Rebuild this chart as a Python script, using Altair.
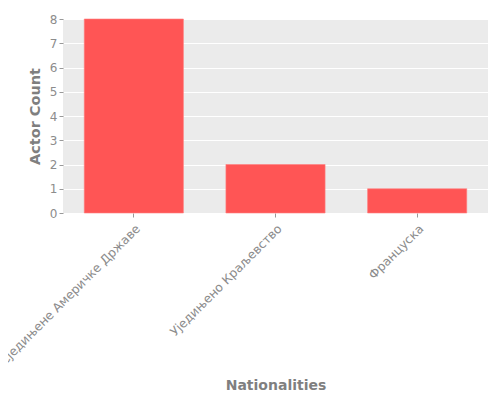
import altair as alt
import pandas as pd

nationalities = ["Сједињене Америчке Државе", "Уједињено Краљевство", "Француска"]
actor_counts = [8, 2, 1]

df = pd.DataFrame({"nationality": nationalities, "count": actor_counts})

chart = (
    alt.Chart(df)
    .mark_bar(color="#FF5555", stroke="#FF8080", strokeWidth=0.6)
    .encode(
        x=alt.X(
            "nationality:N",
            title="Nationalities",
            sort=nationalities,
            scale=alt.Scale(paddingInner=0.3, paddingOuter=0.15),
            axis=alt.Axis(
                labelAngle=-45, labelPadding=5, labelLimit=0, labelFontSize=12.3,
                titleY=176, titleBaseline="alphabetic",
            ),
        ),
        y=alt.Y(
            "count:Q",
            title="Actor Count",
            scale=alt.Scale(domain=[0, 8], nice=False),
            axis=alt.Axis(tickCount=8, titlePadding=7, titleFontSize=14.5),
        ),
    )
    .properties(
        width=425,
        height=194,
        autosize=alt.AutoSizeParams(type="none"),
        padding={"left": 55, "top": 11, "right": 4, "bottom": 179},
    )
    .configure(background="white", font="DejaVu Sans")
    .configure_view(fill="#EBEBEB", stroke=None)
    .configure_axis(
        grid=True,
        gridColor="white",
        gridWidth=1,
        domain=False,
        tickColor="#999999",
        tickSize=4,
        labelColor="#8C8C8C",
        labelFontSize=12,
        labelFont="DejaVu Sans",
        titleColor="#7F7F7F",
        titleFontSize=14,
        titleFont="DejaVu Sans",
        titleFontWeight="bold",
    )
    .configure_axisX(grid=False)
)

chart.save("out.html", embed_options={"renderer": "svg", "actions": False})
